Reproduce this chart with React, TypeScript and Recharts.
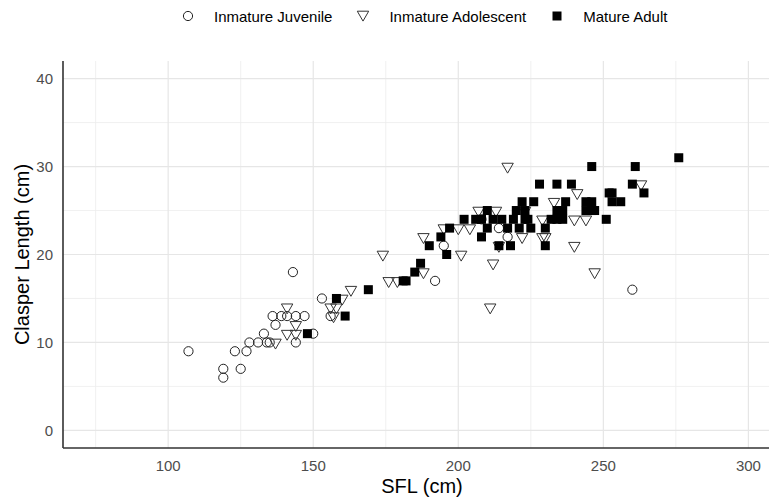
import React from "react";
import { ScatterChart, Scatter, XAxis, YAxis, ReferenceLine } from "recharts";

// [SFL (cm), Clasper Length (cm)]
const juvenile: [number, number][] = [
  [107, 9], [119, 7], [119, 6], [123, 9], [125, 7], [127, 9], [128, 10],
  [131, 10], [133, 11], [134, 10], [135, 10], [137, 12], [136, 13], [139, 13],
  [141, 13], [144, 13], [147, 13], [144, 10], [150, 11], [143, 18], [153, 15],
  [156, 13], [192, 17], [195, 21], [214, 23], [217, 22], [208, 24], [260, 16],
];

const adolescent: [number, number][] = [
  [137, 10], [141, 14], [141, 11], [144, 12], [144, 11], [156, 14], [157, 13],
  [158, 14], [160, 15], [163, 16], [174, 20], [176, 17], [179, 17], [188, 22],
  [188, 18], [195, 23], [200, 23], [204, 23], [201, 20], [207, 25], [213, 25],
  [211, 14], [212, 19], [217, 30], [214, 21], [222, 22], [223, 25], [229, 24],
  [229, 22], [230, 22], [233, 26], [241, 27], [240, 24], [244, 24], [240, 21],
  [247, 18], [263, 28],
];

const mature: [number, number][] = [
  [148, 11], [158, 15], [161, 13], [169, 16], [181, 17], [182, 17], [185, 18],
  [187, 19], [190, 21], [194, 22], [196, 20], [197, 23], [202, 24], [206, 24],
  [208, 24], [208, 22], [210, 25], [210, 23], [212, 24], [214, 21], [218, 21],
  [215, 24], [217, 23], [219, 24], [220, 25], [221, 23], [222, 26], [223, 24],
  [223, 25], [224, 24], [225, 23], [226, 26], [228, 28], [230, 21], [230, 23],
  [232, 24], [234, 25], [234, 28], [234, 24], [236, 25], [236, 24], [237, 26],
  [239, 28], [244, 26], [246, 26], [244, 25], [246, 25], [247, 25], [246, 30],
  [251, 24], [252, 27], [253, 27], [253, 26], [256, 26], [260, 28], [261, 30],
  [264, 27], [276, 31],
];

const xTicks = [100, 150, 200, 250, 300];
const yTicks = [0, 10, 20, 30, 40];
const xMinor = [75, 125, 175, 225, 275];
const yMinor = [5, 15, 25, 35];
const xDomain: [number, number] = [63.75, 307.1];
const yDomain: [number, number] = [-2, 42];

const legendLabels = ["Inmature Juvenile", "Inmature Adolescent", "Mature Adult"];

const toPoints = (arr: [number, number][]) => arr.map(([x, y]) => ({ x, y }));

const OpenCircle = ({ cx, cy }: any) => (
  <circle cx={cx} cy={cy} r={4.6} fill="none" stroke="#222" strokeWidth={1} />
);

const OpenTriangle = ({ cx, cy }: any) => {
  const r = 6.6;
  const h = (r * Math.sqrt(3)) / 2;
  return (
    <polygon
      points={`${cx - h},${cy - r / 2} ${cx + h},${cy - r / 2} ${cx},${cy + r}`}
      fill="none"
      stroke="#333"
      strokeWidth={1}
    />
  );
};

const FilledSquare = ({ cx, cy }: any) => (
  <rect x={cx - 4.5} y={cy - 4.5} width={9} height={9} fill="#000" />
);

const legendIcon = (i: number) => {
  const svg = (child: React.ReactNode) => (
    <svg width={14} height={14} style={{ display: "block" }}>
      {child}
    </svg>
  );
  if (i === 0) return svg(<OpenCircle cx={7} cy={7} />);
  if (i === 1) return svg(<OpenTriangle cx={7} cy={5.5} />);
  return svg(<FilledSquare cx={7} cy={7} />);
};

const font = "'Liberation Sans', Arial, sans-serif";

export default function App() {
  return (
    <div style={{ position: "absolute", left: 0, top: 0, width: 769, height: 497, background: "#fff", fontFamily: font }}>
      <div
        style={{
          position: "absolute",
          left: 181,
          top: 6,
          height: 20,
          display: "flex",
          alignItems: "center",
          fontSize: 15,
          color: "#000",
        }}
      >
        {legendLabels.map((label, i) => (
          <div key={label} style={{ display: "flex", alignItems: "center", marginRight: 24 }}>
            {legendIcon(i)}
            <span style={{ marginLeft: 19 }}>{label}</span>
          </div>
        ))}
      </div>
      <ScatterChart
        width={769}
        height={497}
        margin={{ top: 61, right: 0, bottom: 0, left: 0 }}
        style={{ fontFamily: font }}
      >
        {xMinor.map((v) => (
          <ReferenceLine key={`xm${v}`} x={v} stroke="#ececec" strokeWidth={0.8} />
        ))}
        {yMinor.map((v) => (
          <ReferenceLine key={`ym${v}`} y={v} stroke="#ececec" strokeWidth={0.8} />
        ))}
        {xTicks.map((v) => (
          <ReferenceLine key={`x${v}`} x={v} stroke="#e6e6e6" strokeWidth={1.2} />
        ))}
        {yTicks.map((v) => (
          <ReferenceLine key={`y${v}`} y={v} stroke="#e6e6e6" strokeWidth={1.2} />
        ))}
        <XAxis
          type="number"
          dataKey="x"
          domain={xDomain}
          ticks={xTicks}
          allowDataOverflow
          interval={0}
          height={49}
          tickLine={false}
          tickSize={0}
          tickMargin={12}
          axisLine={{ stroke: "#333", strokeWidth: 1.6 }}
          tick={{ fill: "#4d4d4d", fontSize: 15 }}
          label={{ value: "SFL (cm)", position: "insideBottom", offset: 4, dx: 6, fill: "#000", fontSize: 20 }}
        />
        <YAxis
          type="number"
          dataKey="y"
          domain={yDomain}
          ticks={yTicks}
          allowDataOverflow
          interval={0}
          width={63}
          tickLine={false}
          tickSize={0}
          tickMargin={10}
          axisLine={{ stroke: "#333", strokeWidth: 1.6 }}
          tick={{ fill: "#4d4d4d", fontSize: 15 }}
          label={{
            value: "Clasper Length (cm)",
            angle: -90,
            position: "insideLeft",
            offset: 22,
            fill: "#000",
            fontSize: 20,
            style: { textAnchor: "middle" },
          }}
        />
        <Scatter name={legendLabels[0]} data={toPoints(juvenile)} shape={OpenCircle} isAnimationActive={false} />
        <Scatter name={legendLabels[1]} data={toPoints(adolescent)} shape={OpenTriangle} isAnimationActive={false} />
        <Scatter name={legendLabels[2]} data={toPoints(mature)} shape={FilledSquare} isAnimationActive={false} />
      </ScatterChart>
    </div>
  );
}
